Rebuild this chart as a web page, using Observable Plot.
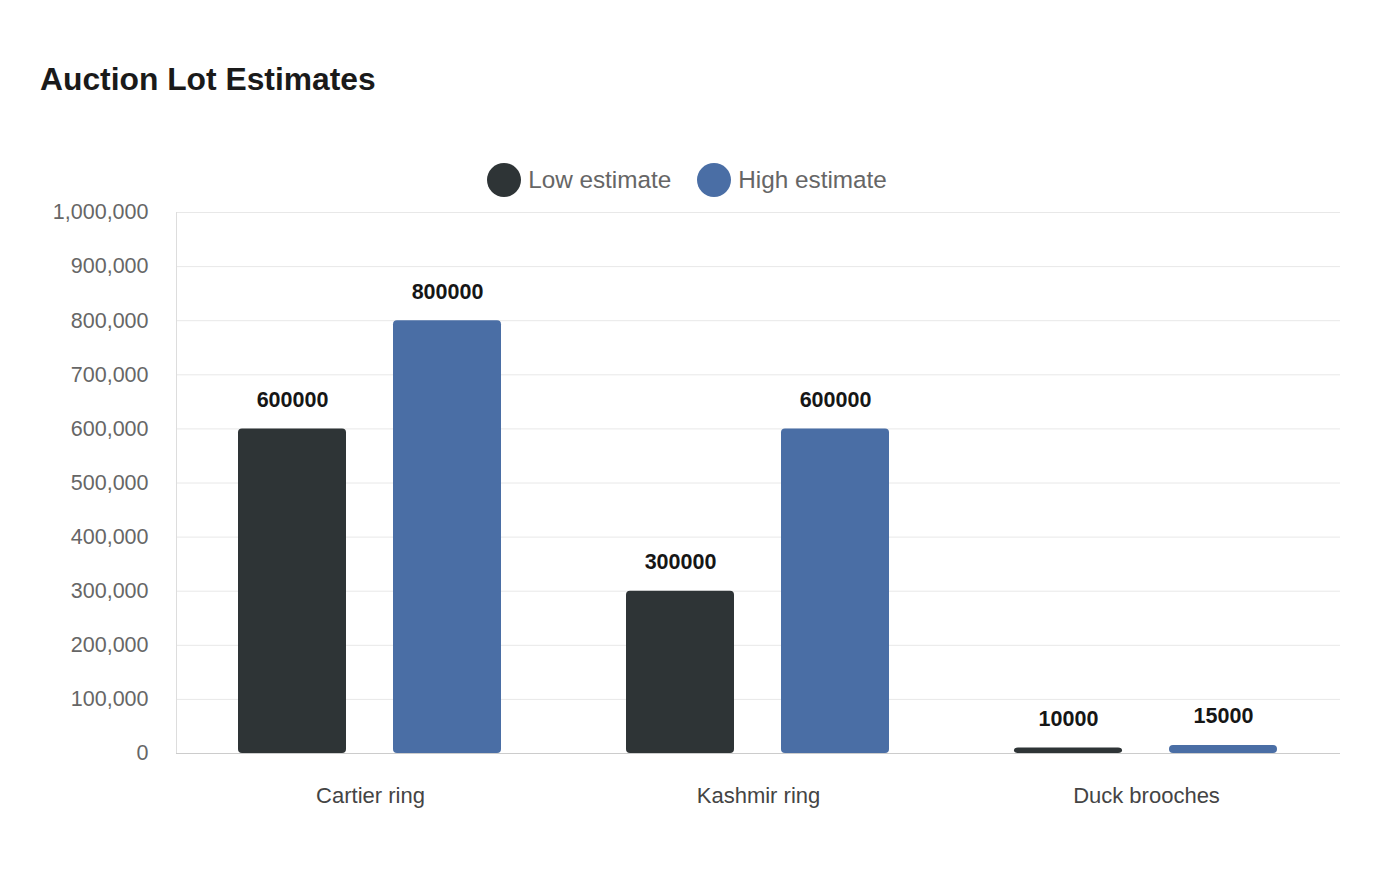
<!DOCTYPE html>
<html>
<head>
<meta charset="utf-8">
<script src="https://cdn.jsdelivr.net/npm/d3@7"></script>
<script src="https://cdn.jsdelivr.net/npm/@observablehq/plot@0.6"></script>
<style>
  html, body { margin: 0; padding: 0; background: #fff; }
  body { width: 1400px; height: 880px; position: relative; overflow: hidden; font-family: "Liberation Sans", Arial, sans-serif; }
  #title { position: absolute; left: 40px; top: 60px; font-size: 31.8px; font-weight: bold; color: #1a1a1a; line-height: 38px; }
  #legend { position: absolute; left: 0; top: 163px; width: 1374px; display: flex; justify-content: center; align-items: center; gap: 26px; font-size: 24.3px; color: #666; }
  .item { display: flex; align-items: center; gap: 7px; }
  .dot { width: 34px; height: 34px; border-radius: 50%; display: inline-block; }
  #chart { position: absolute; left: 0; top: 200px; }
</style>
</head>
<body>
<div id="title">Auction Lot Estimates</div>
<div id="legend"></div>
<div id="chart"></div>
<script>
const categories = ["Cartier ring", "Kashmir ring", "Duck brooches"];
const seriesNames = ["Low estimate", "High estimate"];
const lowEstimate = [600000, 300000, 10000];
const highEstimate = [800000, 600000, 15000];
const colors = ["#2e3436", "#4a6ea5"];
const yTicks = [0, 100000, 200000, 300000, 400000, 500000, 600000, 700000, 800000, 900000, 1000000];

const data = [];
categories.forEach((c, i) => {
  data.push({category: c, series: seriesNames[0], value: lowEstimate[i]});
  data.push({category: c, series: seriesNames[1], value: highEstimate[i]});
});

const legend = document.getElementById("legend");
seriesNames.forEach((s, i) => {
  const it = document.createElement("div");
  it.className = "item";
  it.innerHTML = `<span class="dot" style="background:${colors[i]}"></span><span>${s}</span>`;
  legend.appendChild(it);
});

const chart = Plot.plot({
  width: 1400,
  height: 680,
  marginTop: 12,
  marginBottom: 127,
  marginLeft: 176,
  marginRight: 60,
  style: {fontFamily: "Liberation Sans, Arial, sans-serif", background: "#fff"},
  fx: {domain: categories, padding: 0, label: null, axis: null},
  x: {domain: seriesNames, paddingInner: 0.303, paddingOuter: 0.403, axis: null},
  y: {domain: [0, 1000000], label: null, axis: null},
  color: {domain: seriesNames, range: colors},
  marks: [
    Plot.gridY(yTicks, {stroke: "#e8e8e8", strokeOpacity: 1}),
    Plot.frame({anchor: "left", stroke: "#dddddd", facet: "super"}),
    Plot.axisY(yTicks, {tickSize: 0, tickPadding: 28, fontSize: 21.5, fill: "#666", tickFormat: d3.format(","), label: null}),
    Plot.axisFx({anchor: "bottom", tickSize: 0, tickPadding: 34, fontSize: 22, fill: "#444", label: null}),
    Plot.barY(data, {fx: "category", x: "series", y: "value", fill: "series", rx: 4}),
    Plot.ruleY([0], {stroke: "#cccccc"}),
    Plot.text(data, {fx: "category", x: "series", y: "value", text: d => String(d.value), dy: -29, fontSize: 21.5, fontWeight: "bold", fill: "#161616", lineAnchor: "middle"})
  ]
});
document.getElementById("chart").appendChild(chart);
</script>
</body>
</html>
